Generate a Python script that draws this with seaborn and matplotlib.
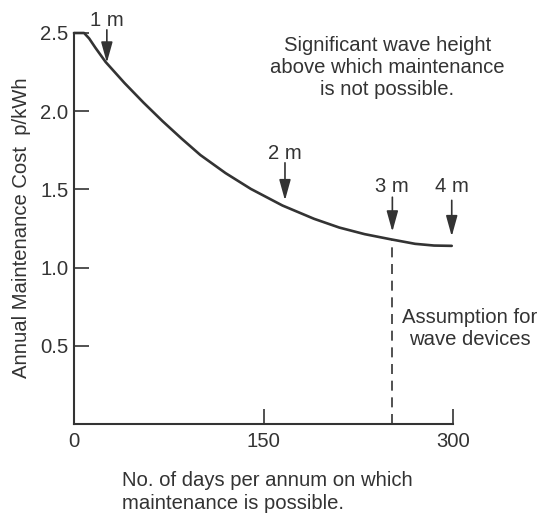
import numpy as np
import pandas as pd
import matplotlib
matplotlib.use("Agg")
import matplotlib.pyplot as plt
import seaborn as sns

# curve (days per annum, p/kWh)
days = [0, 8, 12, 17, 25, 40, 55, 70, 85, 100, 120, 140, 165, 190, 210, 230, 250, 270, 285, 299]
cost = [2.5, 2.5, 2.465, 2.405, 2.315, 2.18, 2.055, 1.937, 1.826, 1.72, 1.604, 1.503,
        1.397, 1.312, 1.256, 1.214, 1.182, 1.152, 1.141, 1.139]

# wave height markers: label, day, arrow top, arrow tip, label height
wave_labels = ["1 m", "2 m", "3 m", "4 m"]
wave_days = [26, 167, 252, 299]
arrow_top = [2.52, 1.67, 1.45, 1.43]
arrow_tip = [2.31, 1.43, 1.23, 1.20]
label_y = [2.58, 1.73, 1.52, 1.52]

assumption_day = 252
assumption_cost = 1.18

xticks = [0, 150, 300]
yticks = [0.5, 1.0, 1.5, 2.0, 2.5]

sns.set_style("ticks")
plt.rcParams['font.family'] = ['Liberation Sans', 'DejaVu Sans']
ink = "#333333"
fs = 14.6

df = pd.DataFrame({"days": days, "cost": cost})

fig = plt.figure(figsize=(5.41, 5.15), dpi=100)
ax = fig.add_axes([74/541, 1 - 424/515, (453 - 74)/541, (424 - 33)/515])

sns.lineplot(data=df, x="days", y="cost", ax=ax, color=ink, linewidth=1.9, clip_on=False)

ax.vlines(assumption_day, 0, assumption_cost, colors=ink, linewidth=1.2,
          linestyles=(0, (6, 4)))

for lab, d, top, tip, ly in zip(wave_labels, wave_days, arrow_top, arrow_tip, label_y):
    ax.annotate("", xy=(d, tip), xytext=(d, top), annotation_clip=False,
                arrowprops=dict(arrowstyle="-|>,head_length=0.9,head_width=0.25",
                                color=ink, linewidth=1.2, shrinkA=0, shrinkB=0,
                                mutation_scale=14))
    ax.text(d, ly, lab, ha="center", va="center", fontsize=fs, color=ink)

ax.text(248, 2.28, "Significant wave height\nabove which maintenance\nis not possible.",
        ha="center", va="center", fontsize=fs, color=ink)
ax.text(313, 0.61, "Assumption for\nwave devices", ha="center", va="center",
        fontsize=fs, color=ink)

ax.set_xlim(0, 300)
ax.set_ylim(0, 2.5)
ax.set_xticks(xticks)
ax.set_yticks(yticks)
ax.set_xticklabels([str(t) for t in xticks])
ax.set_yticklabels([f"{t:.1f}" for t in yticks])
ax.tick_params(direction="in", length=11, width=1.2, colors=ink, labelsize=fs, pad=4)
ax.tick_params(axis="x", pad=6)
for side in ["top", "right"]:
    ax.spines[side].set_visible(False)
for side in ["left", "bottom"]:
    ax.spines[side].set_color(ink)
    ax.spines[side].set_linewidth(1.5)
ax.set_xlabel("")
ax.set_ylabel("")

fig.text(122/541, 1 - 492/515, "No. of days per annum on which\nmaintenance is possible.",
         ha="left", va="center", fontsize=fs, color=ink, linespacing=1.25)
fig.text(22/541, 1 - 228/515, "Annual Maintenance Cost  p/kWh", rotation=90,
         ha="center", va="center", fontsize=fs, color=ink)

fig.savefig("out.png", dpi=100)
